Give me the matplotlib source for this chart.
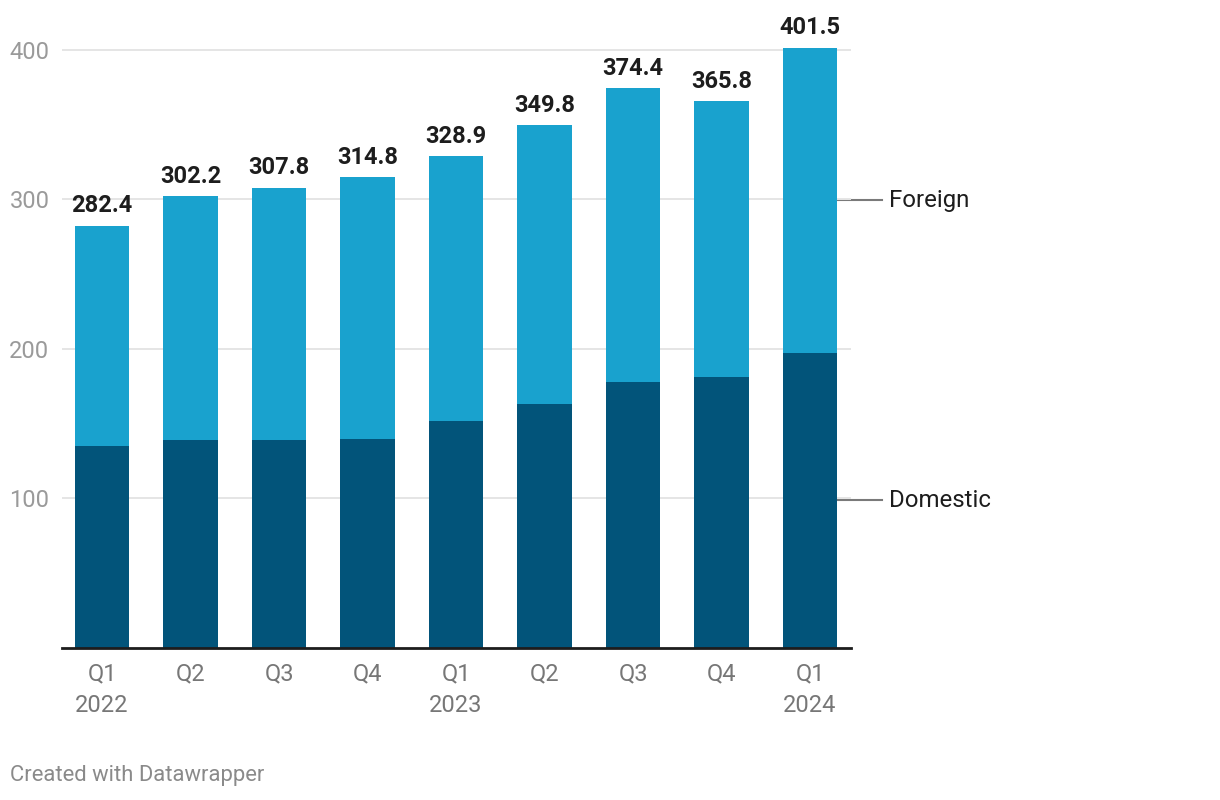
import numpy as np
import matplotlib.pyplot as plt

plt.rcParams['font.family'] = ['Roboto', 'DejaVu Sans']

quarters = ["Q1\n2022", "Q2", "Q3", "Q4", "Q1\n2023", "Q2", "Q3", "Q4", "Q1\n2024"]
totals = [282.4, 302.2, 307.8, 314.8, 328.9, 349.8, 374.4, 365.8, 401.5]
domestic = [134.9, 138.9, 138.9, 139.6, 151.6, 163.0, 177.7, 181.1, 197.2]
foreign = [t - d for t, d in zip(totals, domestic)]

dark = "#02547a"
light = "#19a2ce"

fig = plt.figure(figsize=(12.2, 8), dpi=100)
ax = fig.add_axes([62 / 1220, 1 - 647.5 / 800, (851 - 62) / 1220, (647.5 - 35) / 800])

x = np.arange(len(quarters))
w = 0.62
ax.bar(x, domestic, width=w, color=dark, zorder=2)
ax.bar(x, foreign, width=w, bottom=domestic, color=light, zorder=2)

for xi, t in zip(x, totals):
    ax.annotate(f"{t:.1f}", (xi, t), xytext=(0, 6), textcoords="offset points",
                ha="center", va="bottom", fontsize=17, fontweight="bold", color="#1d1d1d")

ax.set_xlim(-0.452, 8.463)
ax.set_ylim(0, 410)
ax.set_yticks([100, 200, 300, 400])
ax.set_yticklabels(["100", "200", "300", "400"])
ax.grid(axis="y", color="#e5e5e5", linewidth=1.4, zorder=0)
ax.tick_params(axis="y", length=0, pad=9, labelsize=17, labelcolor="#9a9a9a")
ax.set_xticks(x)
ax.set_xticklabels(quarters, linespacing=1.45)
ax.tick_params(axis="x", length=0, pad=11, labelsize=17, labelcolor="#777777")
for s in ["top", "right", "left"]:
    ax.spines[s].set_visible(False)
ax.spines["bottom"].set_color("#1d1d1d")
ax.spines["bottom"].set_linewidth(2)
ax.spines["bottom"].set_zorder(3)

# series labels beside the last bar
last = len(x) - 1
edge = x[last] + w / 2
mids = {"Foreign": domestic[last] + foreign[last] / 2, "Domestic": domestic[last] / 2}
for name, ym in mids.items():
    ax.plot([edge, edge + 45 / 88.5], [ym, ym], color="#7a7a7a", linewidth=1.5, clip_on=False, zorder=1)
    ax.text(edge + 52 / 88.5, ym, name, ha="left", va="center", fontsize=17.3, color="#1d1d1d")

fig.text(10 / 1220, 1 - 776 / 800, "Created with Datawrapper", ha="left", va="center",
         fontsize=15.8, color="#8a8a8a")

fig.savefig("out.png", dpi=100)
